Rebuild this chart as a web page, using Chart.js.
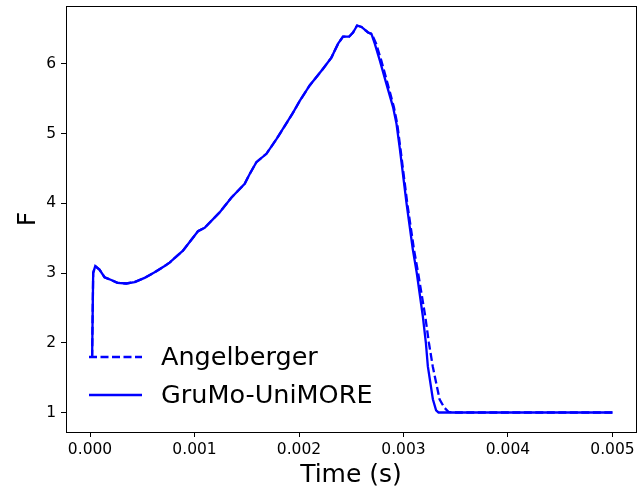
<!DOCTYPE html>
<html>
<head>
<meta charset="utf-8">
<script src="https://cdn.jsdelivr.net/npm/chart.js@4.4.0/dist/chart.umd.min.js"></script>
<style>
  html, body { margin: 0; padding: 0; background: #fff; }
  #wrap { width: 639px; height: 495px; }
</style>
</head>
<body>
<div id="wrap"><canvas id="c" width="639" height="495"></canvas></div>
<script>
// werte
const gruTime = [0.00001, 0.00002, 0.00003, 0.00005, 0.00009, 0.000139, 0.000203, 0.000263, 0.000347, 0.000426,
  0.000522, 0.000618, 0.000714, 0.000761, 0.000889, 0.001033, 0.001097, 0.00124, 0.001352, 0.00148,
  0.001528, 0.001592, 0.001688, 0.001784, 0.001847, 0.001943, 0.002007, 0.002102, 0.00223, 0.00231,
  0.002374, 0.002421, 0.002479, 0.002517, 0.002556, 0.002598, 0.002661, 0.002693, 0.002725, 0.002773,
  0.002837, 0.0029, 0.002933, 0.002965, 0.003029, 0.003089, 0.003127, 0.003185, 0.003214, 0.003233,
  0.003281, 0.003312, 0.003335, 0.0034, 0.005];
const gruF = [1.80, 1.80, 3.00, 3.10, 3.05, 2.94, 2.90, 2.86, 2.85, 2.87,
  2.93, 3.01, 3.10, 3.15, 3.32, 3.60, 3.65, 3.87, 4.08, 4.28,
  4.42, 4.59, 4.71, 4.92, 5.07, 5.30, 5.47, 5.69, 5.93, 6.09,
  6.29, 6.39, 6.39, 6.45, 6.55, 6.53, 6.45, 6.43, 6.29, 6.05,
  5.71, 5.38, 5.14, 4.78, 4.00, 3.34, 3.00, 2.38, 2.00, 1.66,
  1.19, 1.03, 1.00, 1.00, 1.00];

const angTime = [0.00001, 0.00002, 0.00003, 0.00005, 0.00009, 0.000139, 0.000203, 0.000263, 0.000347, 0.000426,
  0.000522, 0.000618, 0.000714, 0.000761, 0.000889, 0.001033, 0.001097, 0.00124, 0.001352, 0.00148,
  0.001528, 0.001592, 0.001688, 0.001784, 0.001847, 0.001943, 0.002007, 0.002102, 0.00223, 0.00231,
  0.002374, 0.002421, 0.002479, 0.002517, 0.002556, 0.002598, 0.002661, 0.002697, 0.002738, 0.002787,
  0.002849, 0.002908, 0.00294, 0.002971, 0.003036, 0.0031, 0.00314, 0.003208, 0.003243, 0.00328,
  0.003345, 0.00339, 0.00343, 0.0035, 0.005];
const angF = [1.80, 1.80, 3.00, 3.10, 3.05, 2.94, 2.90, 2.86, 2.85, 2.87,
  2.93, 3.01, 3.10, 3.15, 3.32, 3.60, 3.65, 3.87, 4.08, 4.28,
  4.42, 4.59, 4.71, 4.92, 5.07, 5.30, 5.47, 5.69, 5.93, 6.09,
  6.29, 6.39, 6.39, 6.45, 6.55, 6.53, 6.45, 6.43, 6.29, 6.05,
  5.71, 5.38, 5.14, 4.78, 4.00, 3.34, 3.00, 2.38, 2.00, 1.66,
  1.19, 1.07, 1.01, 1.00, 1.00];

const xTicks = [0, 0.001, 0.002, 0.003, 0.004, 0.005];
const yTicks = [1, 2, 3, 4, 5, 6];

function toPoints(xs, ys) {
    return xs.map(function(x, i) { return { x: x, y: ys[i] }; });
}

const FONT = "'DejaVu Sans', sans-serif";

// rahmen rund um die zeichenflaeche
const boxPlugin = {
    id: 'box',
    afterDraw: function(chart) {
        const a = chart.chartArea;
        const ctx = chart.ctx;
        ctx.save();
        ctx.strokeStyle = '#000';
        ctx.lineWidth = 1;
        ctx.strokeRect(Math.round(a.left) + 0.5, Math.round(a.top) + 0.5,
            Math.round(a.right - a.left), Math.round(a.bottom - a.top));
        ctx.restore();
    }
};

// legende unten links in der zeichenflaeche
const legendPlugin = {
    id: 'innerLegend',
    afterDraw: function(chart) {
        const a = chart.chartArea;
        const ctx = chart.ctx;
        const rows = [a.bottom - 75, a.bottom - 37];
        ctx.save();
        chart.data.datasets.forEach(function(ds, i) {
            const y = rows[i];
            ctx.beginPath();
            ctx.strokeStyle = ds.borderColor;
            ctx.lineWidth = ds.borderWidth;
            ctx.setLineDash(ds.borderDash || []);
            ctx.moveTo(a.left + 23, y);
            ctx.lineTo(a.left + 76, y);
            ctx.stroke();
            ctx.setLineDash([]);
            ctx.fillStyle = '#000';
            ctx.font = '25.5px ' + FONT;
            ctx.textBaseline = 'middle';
            ctx.fillText(ds.label, a.left + 95, y + 1);
        });
        ctx.restore();
    }
};

new Chart(document.getElementById('c'), {
    type: 'line',
    data: {
        datasets: [{
            label: 'Angelberger',
            data: toPoints(angTime, angF),
            borderColor: '#0000ff',
            borderWidth: 2.3,
            borderDash: [8, 3.5],
            pointRadius: 0,
            fill: false
        }, {
            label: 'GruMo-UniMORE',
            data: toPoints(gruTime, gruF),
            borderColor: '#0000ff',
            borderWidth: 2.3,
            pointRadius: 0,
            fill: false
        }]
    },
    options: {
        responsive: false,
        animation: false,
        layout: { padding: { top: 6, right: 3, left: 0, bottom: 0 } },
        plugins: {
            legend: { display: false },
            tooltip: { enabled: false }
        },
        scales: {
            x: {
                type: 'linear',
                min: -0.00023,
                max: 0.005225,
                afterBuildTicks: function(scale) {
                    scale.ticks = xTicks.map(function(v) { return { value: v }; });
                },
                afterFit: function(scale) {
                    scale.height = 63;
                    scale.paddingLeft = 0;
                    scale.paddingRight = 0;
                },
                ticks: {
                    color: '#000',
                    font: { family: FONT, size: 15.5 },
                    padding: 4,
                    maxRotation: 0,
                    callback: function(v) { return v.toFixed(3); }
                },
                grid: { drawOnChartArea: false, drawTicks: true, tickLength: 5, color: '#000' },
                border: { display: true, color: '#000' },
                title: {
                    display: true,
                    text: 'Time (s)',
                    color: '#000',
                    font: { family: FONT, size: 25 },
                    padding: { top: 0, bottom: 5 }
                }
            },
            y: {
                type: 'linear',
                min: 0.72,
                max: 6.83,
                afterBuildTicks: function(scale) {
                    scale.ticks = yTicks.map(function(v) { return { value: v }; });
                },
                afterFit: function(scale) {
                    scale.width = 66;
                    scale.paddingTop = 0;
                    scale.paddingBottom = 0;
                },
                ticks: {
                    color: '#000',
                    font: { family: FONT, size: 15.5 },
                    padding: 5,
                    callback: function(v) { return String(v); }
                },
                grid: { drawOnChartArea: false, drawTicks: true, tickLength: 5, color: '#000' },
                border: { display: true, color: '#000' },
                title: {
                    display: true,
                    text: 'F',
                    color: '#000',
                    font: { family: FONT, size: 25 },
                    padding: { top: 13, bottom: 0 }
                }
            }
        }
    },
    plugins: [boxPlugin, legendPlugin]
});
</script>
</body>
</html>
